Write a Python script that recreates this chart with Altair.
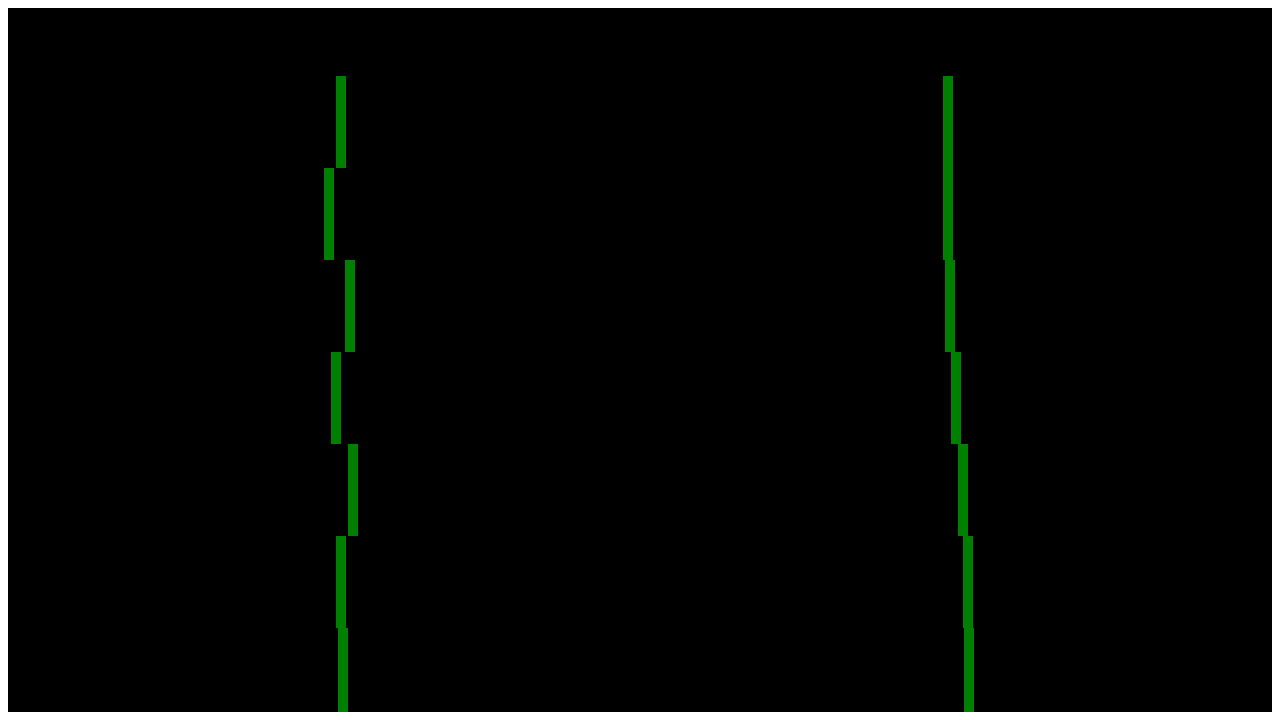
import pandas as pd
import altair as alt

# row tops and bottoms (page pixels), left edges of each segment
row_top = [76, 168, 260, 352, 444, 536, 628]
row_bottom = [168, 260, 352, 444, 536, 628, 720]
left_x = [336, 324, 345, 331, 348, 336, 338]
right_x = [943, 943, 945, 951, 958, 963, 964]
bar_w = 10

rows = []
for t, b, lx, rx in zip(row_top, row_bottom, left_x, right_x):
    rows.append({"x": lx, "x2": lx + bar_w, "y": t, "y2": b})
    rows.append({"x": rx, "x2": rx + bar_w, "y": t, "y2": b})
df = pd.DataFrame(rows)

chart = (
    alt.Chart(df)
    .mark_rect(color="#008000", clip=True)
    .encode(
        x=alt.X("x:Q", scale=alt.Scale(domain=[8, 1272], nice=False, zero=False), axis=None),
        x2="x2:Q",
        y=alt.Y("y:Q", scale=alt.Scale(domain=[8, 712], nice=False, zero=False, reverse=True), axis=None),
        y2="y2:Q",
    )
    .properties(
        width=1264,
        height=704,
        background="black",
        padding=0,
        autosize=alt.AutoSizeParams(type="none"),
    )
    .configure_view(stroke=None)
)

chart.save("out.html", embed_options={"renderer": "svg", "actions": False})
